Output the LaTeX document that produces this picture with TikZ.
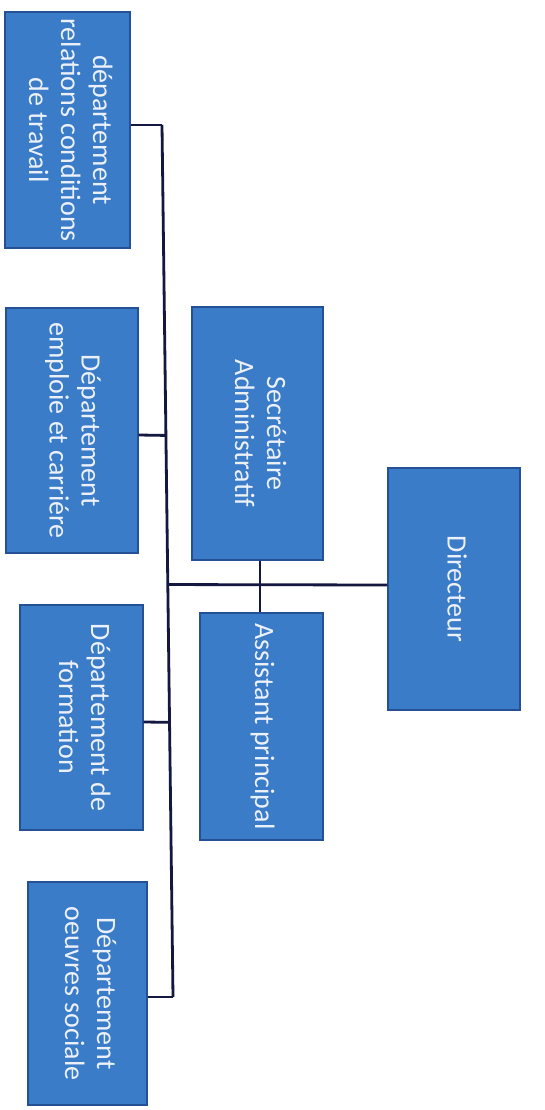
\documentclass[tikz,border=0pt]{standalone}
\usepackage{fontspec}
\setmainfont{Carlito}
\usetikzlibrary{calc}
\definecolor{boxblue}{RGB}{58,124,200}
\definecolor{boxedge}{RGB}{36,80,150}
\definecolor{ink}{RGB}{20,24,64}
\definecolor{labelwhite}{RGB}{236,240,248}
\tikzset{
  unit/.style={draw=boxedge, line width=1.4pt, fill=boxblue, inner sep=0pt,
               text=labelwhite, font=\fontsize{28}{32}\selectfont},
  link/.style={draw=ink, line width=2.8pt},
}
% labels run top to bottom inside the boxes
\newcommand{\vlabel}[1]{\rotatebox{-90}{\begin{tabular}{@{}c@{}}#1\end{tabular}}}

\begin{document}
\begin{tikzpicture}[x=1pt,y=-1pt]
  \useasboundingbox (0,0) rectangle (545,1110);
  \fill[white] (0,0) rectangle (545,1110);

  % departments (left column)
  \node[unit, minimum width=125pt, minimum height=236pt] (rel)  at (67.5,130)
    {\vlabel{département\\relations conditions\\de travail}};
  \node[unit, minimum width=132pt, minimum height=245pt] (emp)  at (72,430.5)
    {\vlabel{Département\\emploie et carriére}};
  \node[unit, minimum width=123pt, minimum height=225pt] (form) at (81.5,717.5)
    {\vlabel{Département de\\formation}};
  \node[unit, minimum width=119pt, minimum height=223pt] (oeuv) at (87.5,993.5)
    {\vlabel{Département\\oeuvres sociale}};

  % staff (middle column)
  \node[unit, minimum width=131pt, minimum height=253pt] (sec)  at (257.5,433.5)
    {\vlabel{Secrétaire\\Administratif}};
  \node[unit, minimum width=123pt, minimum height=227pt] (asst) at (261.5,726.5)
    {\vlabel{Assistant principal}};

  % head
  \node[unit, minimum width=132pt, minimum height=242pt] (dir)  at (454,589)
    {\vlabel{Directeur}};

  % trunk of the department branch
  \coordinate (ttop) at (162,125);
  \coordinate (tbot) at (173,997);
  \draw[link] (ttop) -- (tbot);

  \draw[link] (rel.east |- ttop) -- (ttop);
  \draw[link] (emp.east |- 0,435) -- ($(ttop)!0.356!(tbot)$);
  \draw[link] (form.east |- 0,722) -- ($(ttop)!0.685!(tbot)$);
  \draw[link] (oeuv.east |- tbot) -- (tbot);

  % director to trunk
  \draw[link] (dir.west |- 0,585) -- ($(ttop)!0.527!(tbot)$);

  % secretary to assistant
  \draw[link] (sec.south -| 260,0) -- (asst.north -| 260,0);
\end{tikzpicture}
\end{document}
